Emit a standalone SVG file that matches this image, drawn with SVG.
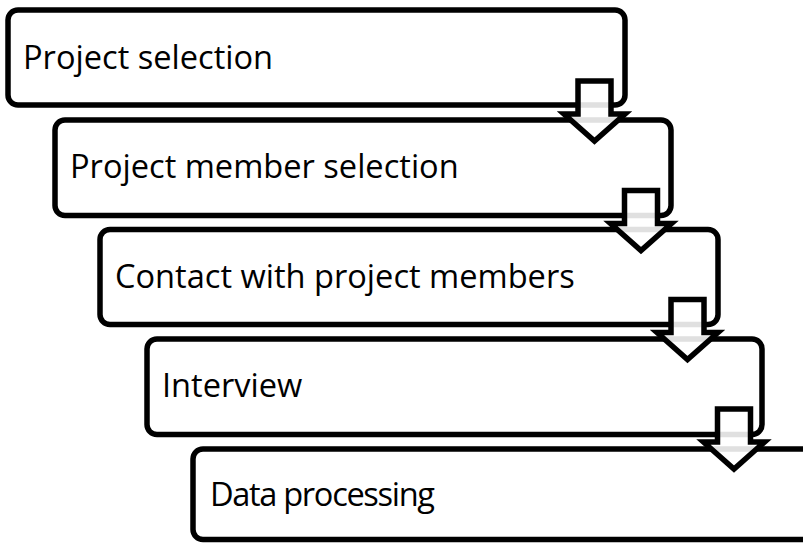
<svg xmlns="http://www.w3.org/2000/svg" width="803" height="543" viewBox="0 0 803 543">
  <style>
    .box { fill: #ffffff; stroke: #000000; stroke-width: 5.5; }
    .lbl { font-family: "Open Sans", "Noto Sans", "Liberation Sans", sans-serif; font-size: 32.6px; fill: #000000; }
    .arr { fill: #ffffff; fill-opacity: 0.88; stroke: #000000; stroke-width: 5.5; stroke-linejoin: miter; }
  </style>
  <defs>
    <polygon id="downArrow" points="-16.5,0 16.5,0 16.5,33 30.5,33 0,60 -30.5,33 -16.5,33"/>
  </defs>
  <rect width="803" height="543" fill="#ffffff"/>
  <g id="node-project-selection">
    <rect class="box" x="8" y="10" width="617" height="95" rx="10"/>
    <text class="lbl" x="23" y="69">Project selection</text>
  </g>
  <g id="node-project-member-selection">
    <rect class="box" x="55" y="120" width="616" height="95.5" rx="10"/>
    <text class="lbl" x="70" y="178">Project member selection</text>
  </g>
  <g id="node-contact">
    <rect class="box" x="100" y="229.5" width="618" height="95" rx="10"/>
    <text class="lbl" x="115" y="288">Contact with project members</text>
  </g>
  <g id="node-interview">
    <rect class="box" x="147" y="339" width="615" height="95.5" rx="10"/>
    <text class="lbl" x="162" y="397">Interview</text>
  </g>
  <g id="node-data-processing">
    <rect class="box" x="193" y="449" width="620" height="90.5" rx="10"/>
    <text class="lbl" x="210" y="506" textLength="225" lengthAdjust="spacing">Data processing</text>
  </g>
  <g id="connectors">
    <use href="#downArrow" class="arr" transform="translate(594.5,81)"/>
    <use href="#downArrow" class="arr" transform="translate(641,190.5)"/>
    <use href="#downArrow" class="arr" transform="translate(687.5,299.5)"/>
    <use href="#downArrow" class="arr" transform="translate(734,409)"/>
  </g>
</svg>
